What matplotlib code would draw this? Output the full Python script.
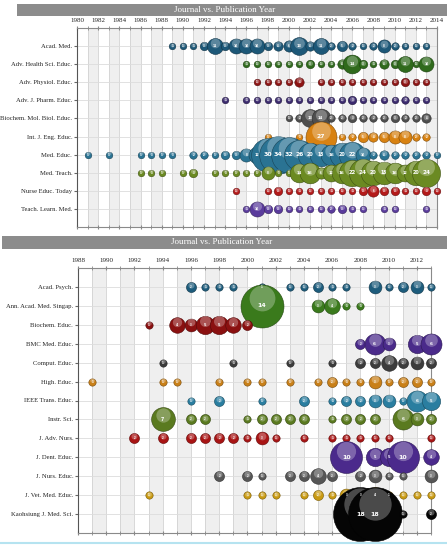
import numpy as np
import matplotlib.pyplot as plt
from matplotlib.patches import Rectangle
from matplotlib.lines import Line2D
from matplotlib.transforms import offset_copy
from matplotlib.colors import to_rgb

plt.rcParams['font.family'] = ['Liberation Serif', 'DejaVu Serif']

# ---- top panel data: {year: papers}
top_journals = ['Acad. Med.', 'Adv. Health Sci. Educ.', 'Adv. Physiol. Educ.',
                'Adv. J. Pharm. Educ.', 'Biochem. Mol. Biol. Educ.', 'Int. J. Eng. Educ.',
                'Med. Educ.', 'Med. Teach.', 'Nurse Educ. Today', 'Teach. Learn. Med.']
acad_med = {1989: 1, 1990: 1, 1991: 1, 1992: 3, 1993: 11, 1994: 3, 1995: 10, 1996: 10,
            1997: 10, 1998: 3, 1999: 4, 2000: 6, 2001: 13, 2002: 4, 2003: 11, 2004: 2,
            2005: 5, 2006: 2, 2007: 1, 2008: 2, 2009: 8, 2010: 2, 2011: 1, 2012: 1, 2013: 1}
adv_health = {1996: 1, 1997: 1, 1998: 1, 1999: 1, 2000: 1, 2001: 1, 2002: 3, 2003: 1,
              2004: 1, 2005: 4, 2006: 14, 2007: 3, 2008: 1, 2009: 4, 2010: 3, 2011: 11,
              2012: 1, 2013: 10}
adv_physiol = {1997: 1, 1998: 1, 1999: 1, 2000: 1, 2001: 4, 2003: 1, 2004: 1, 2005: 1,
               2006: 1, 2007: 1, 2008: 1, 2009: 1, 2010: 1, 2011: 3, 2012: 1, 2013: 1}
adv_pharm = {1994: 1, 1996: 1, 1997: 1, 1998: 1, 1999: 1, 2000: 1, 2001: 1, 2002: 1,
             2003: 1, 2004: 1, 2005: 1, 2006: 3, 2007: 1, 2008: 1, 2009: 1, 2010: 1,
             2011: 2, 2012: 1, 2013: 1}
biochem_mol = {2000: 1, 2001: 2, 2002: 13, 2003: 14, 2004: 2, 2005: 2, 2006: 3, 2007: 2,
               2008: 2, 2009: 2, 2010: 3, 2011: 2, 2012: 2, 2013: 4}
int_eng = {1998: 1, 2001: 1, 2003: 27, 2005: 1, 2006: 2, 2007: 5, 2008: 4, 2009: 5,
           2010: 8, 2011: 8, 2012: 2, 2013: 2}
med_educ = {1981: 1, 1983: 1, 1986: 1, 1987: 1, 1988: 1, 1989: 1, 1991: 2, 1992: 2,
            1993: 1, 1994: 3, 1995: 3, 1996: 8, 1997: 12, 1998: 30, 1999: 34, 2000: 32,
            2001: 26, 2002: 20, 2003: 18, 2004: 16, 2005: 20, 2006: 22, 2007: 10, 2008: 2,
            2009: 4, 2010: 2, 2011: 2, 2012: 2, 2013: 2, 2014: 1}
med_teach = {1986: 1, 1987: 1, 1988: 1, 1990: 1, 1991: 3, 1993: 1, 1994: 1, 1995: 1,
             1996: 1, 1997: 1, 1998: 8, 1999: 1, 2000: 1, 2001: 14, 2002: 16, 2003: 6,
             2004: 12, 2005: 16, 2006: 22, 2007: 24, 2008: 20, 2009: 18, 2010: 16,
             2011: 12, 2012: 20, 2013: 24}
nurse_educ = {1995: 1, 1998: 1, 1999: 3, 2000: 1, 2001: 1, 2002: 1, 2003: 1, 2004: 1,
              2005: 1, 2006: 1, 2007: 3, 2008: 6, 2009: 3, 2010: 3, 2011: 1, 2012: 1,
              2013: 3, 2014: 1}
teach_learn = {1996: 1, 1997: 10, 1998: 3, 1999: 3, 2000: 1, 2001: 1, 2002: 1, 2003: 1,
               2004: 2, 2005: 3, 2006: 1, 2007: 1, 2009: 1, 2010: 1, 2013: 1}
top_series = [acad_med, adv_health, adv_physiol, adv_pharm, biochem_mol, int_eng,
              med_educ, med_teach, nurse_educ, teach_learn]
top_colors = ['#1d5878', '#2f6a1c', '#8e1414', '#3b2a6e', '#4e4e4e', '#d88212',
              '#2a7393', '#6b8a22', '#b41a1a', '#5a3b9c']

# ---- bottom panel data
bot_journals = ['Acad. Psych.', 'Ann. Acad. Med. Singap.', 'Biochem. Educ.', 'BMC Med. Educ.',
                'Comput. Educ.', 'High. Educ.', 'IEEE Trans. Educ.', 'Instr. Sci.',
                'J. Adv. Nurs.', 'J. Dent. Educ.', 'J. Nurs. Educ.', 'J. Vet. Med. Educ.',
                'Kaohsiung J. Med. Sci.']
acad_psych = {1996: 2, 1997: 1, 1998: 1, 1999: 1, 2001: 1, 2003: 1, 2004: 1, 2005: 2,
              2006: 1, 2007: 1, 2009: 3, 2010: 1, 2011: 2, 2012: 3, 2013: 1}
ann_acad = {2001: 14, 2005: 3, 2006: 4, 2007: 1, 2008: 1}
biochem_educ = {1993: 1, 1995: 4, 1996: 3, 1997: 5, 1998: 5, 1999: 4, 2000: 2}
bmc_med = {2008: 2, 2009: 6, 2010: 3, 2012: 5, 2013: 6}
comput_educ = {1994: 1, 1999: 1, 2003: 1, 2006: 1, 2008: 2, 2009: 2, 2010: 4, 2011: 2,
               2012: 3, 2013: 2}
high_educ = {1989: 1, 1994: 1, 1995: 1, 1998: 1, 2000: 1, 2001: 1, 2003: 1, 2005: 1,
             2006: 2, 2007: 1, 2008: 1, 2009: 3, 2010: 1, 2011: 2, 2012: 2, 2013: 1}
ieee_educ = {1996: 1, 1998: 2, 2001: 1, 2004: 2, 2006: 1, 2007: 2, 2008: 2, 2009: 3,
             2010: 3, 2011: 1, 2012: 6, 2013: 5}
instr_sci = {1994: 7, 1996: 2, 1997: 2, 2000: 1, 2001: 2, 2002: 2, 2003: 2, 2004: 2,
             2006: 1, 2007: 2, 2008: 2, 2009: 2, 2011: 6, 2012: 3, 2013: 2}
j_adv_nurs = {1992: 2, 1994: 2, 1996: 2, 1997: 2, 1998: 2, 1999: 2, 2000: 1, 2001: 3,
              2002: 1, 2004: 1, 2006: 1, 2007: 1, 2008: 1, 2009: 1, 2010: 1, 2013: 1}
j_dent = {2007: 10, 2009: 5, 2010: 5, 2011: 10, 2013: 4}
j_nurs = {1998: 2, 2000: 2, 2001: 1, 2003: 2, 2004: 2, 2005: 4, 2006: 2, 2008: 2,
          2009: 3, 2010: 1, 2011: 1, 2013: 3}
j_vet = {1993: 1, 2000: 1, 2001: 1, 2002: 1, 2004: 1, 2005: 2, 2006: 1, 2007: 3,
         2008: 3, 2009: 4, 2010: 1, 2011: 1, 2012: 1, 2013: 1}
kaohsiung = {2008: 18, 2009: 18, 2011: 1, 2013: 2}
bot_series = [acad_psych, ann_acad, biochem_educ, bmc_med, comput_educ, high_educ,
              ieee_educ, instr_sci, j_adv_nurs, j_dent, j_nurs, j_vet, kaohsiung]
bot_colors = ['#1d5c7c', '#3a7a1c', '#8a1010', '#4a2a8a', '#3c3c3c', '#c98019',
              '#2a7ea0', '#5a7a1f', '#a81414', '#4b2a8c', '#565656', '#c99a12', '#050505']


def shade(c, f):
    r, g, b = to_rgb(c)
    return (r * f, g * f, b * f)


def draw_panel(ax, journals, series, colors, x0, x1, a, b):
    ax.set_xlim(x0, x1)
    ax.set_ylim(len(journals), -1)
    # alternating grey year bands
    for yr in range(x0 + 1, x1, 2):
        ax.axvspan(yr, yr + 1, color='#efefef', zorder=0, lw=0)
    ax.set_xticks(range(x0, x1 + 1, 2))
    ax.set_xticks(range(x0, x1 + 1), minor=True)
    ax.set_yticks(range(len(journals)))
    ax.set_yticklabels(journals, fontsize=4.8, color='#222')
    ax.xaxis.tick_top()
    ax.tick_params(axis='x', which='both', labelsize=5.0, direction='inout', length=3,
                   color='#888', pad=2, top=True, bottom=True, labelcolor='#222')
    ax.tick_params(axis='y', length=2, color='#666', pad=1.5)
    ax.grid(which='both', axis='x', color='#d2d2d2', lw=0.6, zorder=1)
    ax.grid(axis='y', color='#dcdcdc', lw=0.6, zorder=1)
    ax.set_axisbelow(True)
    for sp in ax.spines.values():
        sp.set_color('#8a8a8a')
        sp.set_linewidth(0.8)
    ax.spines['left'].set_color('#555')

    fig = ax.figure
    for i, (data, c) in enumerate(zip(series, colors)):
        for yr, n in data.items():
            r_px = a + b * n
            r_pt = r_px * 0.72
            ax.scatter([yr], [i], s=(2 * r_pt) ** 2, color=c, edgecolors=shade(c, 0.6),
                       linewidths=0.4, zorder=3, clip_on=False)
            hl = offset_copy(ax.transData, fig=fig, x=0, y=r_pt * 0.38, units='points')
            ax.scatter([yr], [i], s=(1.2 * r_pt) ** 2, color='white', alpha=0.28,
                       lw=0, zorder=3, transform=hl, clip_on=False)
            fs = min(4.5, max(1.8, r_pt * 0.4))
            ax.text(yr, i, str(n), color='white', fontsize=fs, ha='center', va='center',
                    fontweight='bold', family='DejaVu Sans', zorder=4)


fig = plt.figure(figsize=(4.47, 5.45), dpi=100)

ax1 = fig.add_axes([77 / 447, 1 - 227 / 545, 360 / 447, 199 / 545])
draw_panel(ax1, top_journals, top_series, top_colors, 1980, 2014, 2.8, 0.47)

ax2 = fig.add_axes([78 / 447, 1 - 533 / 545, 353 / 447, 265 / 545])
draw_panel(ax2, bot_journals, bot_series, bot_colors, 1988, 2013, 2.3, 1.37)

# title bars
for x0, ytop, ybot, xc in [(17, 4, 16, 225), (2, 236, 249, 222)]:
    fig.add_artist(Rectangle((x0 / 447, 1 - ybot / 545), 1 - x0 / 447, (ybot - ytop) / 545,
                             transform=fig.transFigure, color='#8c8c8c', lw=0))
    fig.text(xc / 447, 1 - (ytop + ybot) / 2 / 545, 'Journal vs. Publication Year',
             color='white', fontsize=6.5, ha='center', va='center')

fig.add_artist(Line2D([0, 1], [1 - 543 / 545] * 2, color='#b5e3f0', lw=1.5,
                      transform=fig.transFigure))

fig.savefig('out.png', dpi=100)
